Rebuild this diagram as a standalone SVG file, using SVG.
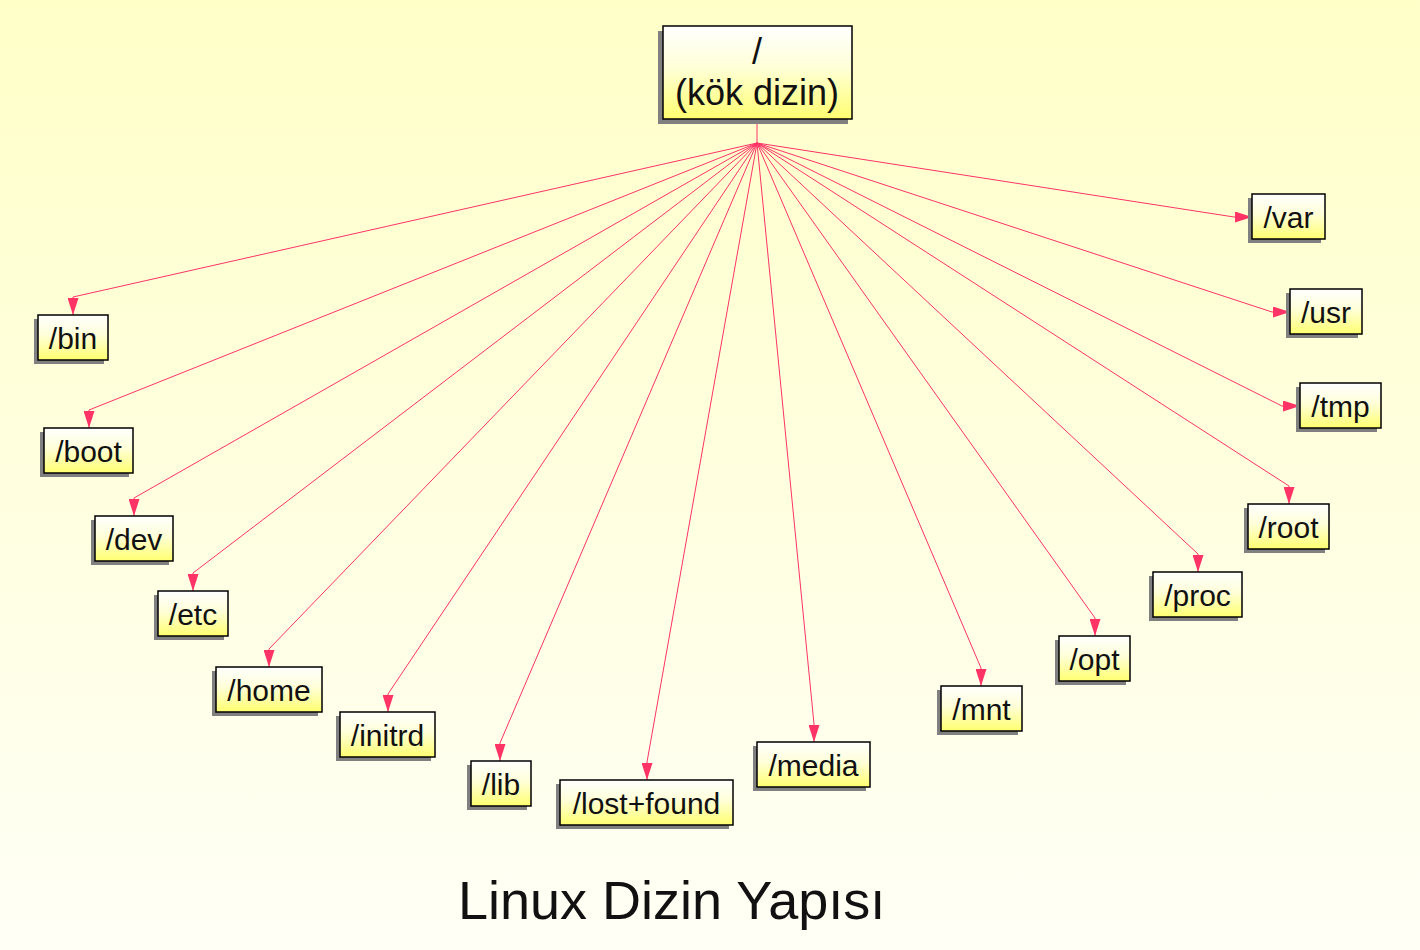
<svg xmlns="http://www.w3.org/2000/svg" width="1420" height="950" viewBox="0 0 1420 950">
<defs>
<linearGradient id="bg" x1="0" y1="0" x2="0" y2="1">
<stop offset="0" stop-color="#FFFFC8"/>
<stop offset="1" stop-color="#FFFFF6"/>
</linearGradient>
<linearGradient id="box" x1="0" y1="0" x2="0" y2="1">
<stop offset="0" stop-color="#FFFFFF"/>
<stop offset="0.45" stop-color="#FFFFD8"/>
<stop offset="1" stop-color="#FFFF70"/>
</linearGradient>
<marker id="ah" markerUnits="userSpaceOnUse" viewBox="0 0 17 11" refX="17" refY="5.5" markerWidth="17" markerHeight="11" orient="auto">
<path d="M0,0 L17,5.5 L0,11 z" fill="#FF3366"/>
</marker>
<style>
.sh{fill:#808080}
.bx{fill:url(#box);stroke:#000;stroke-width:1.5}
.t{font-family:"Liberation Sans",Arial,sans-serif;font-size:30px;fill:#111;text-anchor:middle}
.rt{font-family:"Liberation Sans",Arial,sans-serif;font-size:36px;fill:#111;text-anchor:middle}
.c{fill:none;stroke:#FF3366;stroke-width:1}
</style>
</defs>
<rect width="1420" height="950" fill="url(#bg)"/>

<g id="connectors">
<path class="c" d="M757,119 L757,143"/>
<path class="c" marker-end="url(#ah)" d="M757,143 L73,297 L73,315"/>
<path class="c" marker-end="url(#ah)" d="M757,143 L89,410 L89,428"/>
<path class="c" marker-end="url(#ah)" d="M757,143 L134,498 L134,516"/>
<path class="c" marker-end="url(#ah)" d="M757,143 L193,573 L193,591"/>
<path class="c" marker-end="url(#ah)" d="M757,143 L269,649 L269,667"/>
<path class="c" marker-end="url(#ah)" d="M757,143 L388,694 L388,712"/>
<path class="c" marker-end="url(#ah)" d="M757,143 L500,743 L500,761"/>
<path class="c" marker-end="url(#ah)" d="M757,143 L647,762 L647,780"/>
<path class="c" marker-end="url(#ah)" d="M757,143 L814,724 L814,742"/>
<path class="c" marker-end="url(#ah)" d="M757,143 L981,668 L981,686"/>
<path class="c" marker-end="url(#ah)" d="M757,143 L1095,618 L1095,636"/>
<path class="c" marker-end="url(#ah)" d="M757,143 L1198,554 L1198,572"/>
<path class="c" marker-end="url(#ah)" d="M757,143 L1289,486 L1289,504"/>
<path class="c" marker-end="url(#ah)" d="M757,143 L1282,406 L1300,406"/>
<path class="c" marker-end="url(#ah)" d="M757,143 L1272,312 L1290,312"/>
<path class="c" marker-end="url(#ah)" d="M757,143 L1234,217 L1252,217"/>
</g>

<g id="root">
<rect class="sh" x="658" y="31" width="190" height="93"/>
<rect class="bx" x="663" y="26" width="189" height="93"/>
<text class="rt" x="757" y="64">/</text>
<text class="rt" x="757" y="105">(kök dizin)</text>
</g>

<g id="bin"><rect class="sh" x="34" y="319" width="70" height="45"/><rect class="bx" x="38" y="315" width="70" height="45"/><text class="t" x="73" y="349">/bin</text></g>
<g id="boot"><rect class="sh" x="40" y="432" width="89" height="45"/><rect class="bx" x="44" y="428" width="89" height="45"/><text class="t" x="88.5" y="462">/boot</text></g>
<g id="dev"><rect class="sh" x="91" y="520" width="78" height="45"/><rect class="bx" x="95" y="516" width="78" height="45"/><text class="t" x="134" y="550">/dev</text></g>
<g id="etc"><rect class="sh" x="154" y="595" width="70" height="45"/><rect class="bx" x="158" y="591" width="70" height="45"/><text class="t" x="193" y="625">/etc</text></g>
<g id="home"><rect class="sh" x="212" y="671" width="106" height="45"/><rect class="bx" x="216" y="667" width="106" height="45"/><text class="t" x="269" y="701">/home</text></g>
<g id="initrd"><rect class="sh" x="336" y="716" width="95" height="45"/><rect class="bx" x="340" y="712" width="95" height="45"/><text class="t" x="387.5" y="746">/initrd</text></g>
<g id="lib"><rect class="sh" x="467" y="765" width="60" height="45"/><rect class="bx" x="471" y="761" width="60" height="45"/><text class="t" x="501" y="795">/lib</text></g>
<g id="lost-found"><rect class="sh" x="556" y="784" width="173" height="45"/><rect class="bx" x="560" y="780" width="173" height="45"/><text class="t" x="646.5" y="814">/lost+found</text></g>
<g id="media"><rect class="sh" x="753" y="746" width="113" height="45"/><rect class="bx" x="757" y="742" width="113" height="45"/><text class="t" x="813.5" y="776">/media</text></g>
<g id="mnt"><rect class="sh" x="937" y="690" width="81" height="45"/><rect class="bx" x="941" y="686" width="81" height="45"/><text class="t" x="981.5" y="720">/mnt</text></g>
<g id="opt"><rect class="sh" x="1055" y="640" width="71" height="45"/><rect class="bx" x="1059" y="636" width="71" height="45"/><text class="t" x="1094.5" y="670">/opt</text></g>
<g id="proc"><rect class="sh" x="1149" y="576" width="89" height="45"/><rect class="bx" x="1153" y="572" width="89" height="45"/><text class="t" x="1197.5" y="606">/proc</text></g>
<g id="root-dir"><rect class="sh" x="1244" y="508" width="81" height="45"/><rect class="bx" x="1248" y="504" width="81" height="45"/><text class="t" x="1288.5" y="538">/root</text></g>
<g id="tmp"><rect class="sh" x="1296" y="387" width="81" height="45"/><rect class="bx" x="1300" y="383" width="81" height="45"/><text class="t" x="1340.5" y="417">/tmp</text></g>
<g id="usr"><rect class="sh" x="1286" y="293" width="72" height="45"/><rect class="bx" x="1290" y="289" width="72" height="45"/><text class="t" x="1326" y="323">/usr</text></g>
<g id="var"><rect class="sh" x="1248" y="198" width="73" height="45"/><rect class="bx" x="1252" y="194" width="73" height="45"/><text class="t" x="1288.5" y="228">/var</text></g>

<text x="458" y="919" font-family="'Liberation Sans',Arial,sans-serif" font-size="54" fill="#111">Linux Dizin Yapısı</text>
</svg>
